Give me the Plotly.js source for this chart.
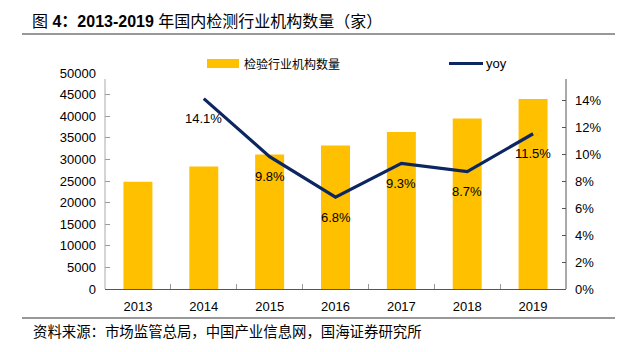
<!DOCTYPE html>
<html>
<head>
<meta charset="utf-8">
<script src="https://cdn.plot.ly/plotly-3.0.1.min.js"></script>
<style>html,body{margin:0;padding:0;background:#fff;}#chart{width:637px;height:352px;}</style>
</head>
<body>
<div id="chart"></div>
<script>
const years = ['2013','2014','2015','2016','2017','2018','2019'];
const institutions = [24847, 28340, 31122, 33235, 36327, 39472, 44007];
const yoyYears = ['2014','2015','2016','2017','2018','2019'];
const yoy = [0.141, 0.098, 0.068, 0.093, 0.087, 0.115];
const yoyLabels = ['14.1%','9.8%','6.8%','9.3%','8.7%','11.5%'];
const barName = '检验行业机构数量';
const lineName = 'yoy';
const leftTicks = [0,5000,10000,15000,20000,25000,30000,35000,40000,45000,50000];
const rightTicks = [0,0.02,0.04,0.06,0.08,0.10,0.12,0.14];
const titleText = '图 <b>4：2013-2019</b> 年国内检测行业机构数量（家）';
const sourceText = '资料来源：市场监管总局，中国产业信息网，国海证券研究所';

const W = 637, H = 352;
const L = 105, R = 566, T = 73, B = 289;
const pw = R - L, ph = B - T;
const px = x => (x - L) / pw;
const py = y => (B - y) / ph;

const font = 'Liberation Sans, Arial, Noto Sans CJK SC, sans-serif';

const traces = [
  {
    type: 'bar', x: years, y: institutions, name: barName,
    marker: {color: '#FFC000'}, showlegend: false, hoverinfo: 'skip'
  },
  {
    type: 'scatter', mode: 'lines', x: yoyYears, y: yoy, yaxis: 'y2', name: lineName,
    line: {color: '#0B2660', width: 3.2},
    showlegend: false, hoverinfo: 'skip', cliponaxis: false
  }
];

// value labels positioned via the category index of each year on the x axis
const labelAnns = yoyYears.map((yr, i) => ({
  x: years.indexOf(yr), y: yoy[i], xref: 'x', yref: 'y2', text: yoyLabels[i],
  showarrow: false, xanchor: 'center', yanchor: 'middle', yshift: -20,
  font: {family: font, size: 13, color: '#000'}
}));

const layout = {
  width: W, height: H,
  margin: {l: L, r: W - R, t: T, b: H - B, pad: 0},
  paper_bgcolor: '#fff', plot_bgcolor: '#fff',
  font: {family: font, size: 13, color: '#000'},
  bargap: 0.56,
  showlegend: false,
  title: {
    text: titleText, x: 32 / W, xanchor: 'left', xref: 'container',
    y: 1 - 21 / H, yanchor: 'middle', yref: 'container',
    font: {family: 'Liberation Sans, Noto Sans CJK SC, sans-serif', size: 16, color: '#000'}
  },
  xaxis: {
    type: 'category', categoryorder: 'array', categoryarray: years,
    range: [-0.5, years.length - 0.5],
    showgrid: false, zeroline: false,
    showline: true, linecolor: '#555', linewidth: 1,
    ticks: 'inside', ticklen: 5, tickcolor: '#999', tickson: 'boundaries',
    tickfont: {family: font, size: 13, color: '#000'}, ticklabelstandoff: 5
  },
  yaxis: {
    range: [0, 50000], showgrid: false, zeroline: false, showline: false,
    tickvals: leftTicks, ticktext: leftTicks.map(String),
    ticks: 'inside', ticklen: 5, tickcolor: '#999',
    tickfont: {family: font, size: 13, color: '#000'}, ticklabelstandoff: 8
  },
  yaxis2: {
    overlaying: 'y', side: 'right', range: [0, 0.16],
    showgrid: false, zeroline: false, showline: false,
    tickvals: rightTicks, ticktext: rightTicks.map(v => Math.round(v * 100) + '%'),
    ticks: 'inside', ticklen: 4, tickcolor: '#555',
    tickfont: {family: font, size: 13, color: '#000'}, ticklabelstandoff: 8
  },
  shapes: [
    {type: 'line', xref: 'paper', yref: 'paper', x0: 0, x1: 0, y0: 0, y1: py(79), line: {color: '#aaa', width: 1}},
    {type: 'line', xref: 'paper', yref: 'paper', x0: 1, x1: 1, y0: 0, y1: py(79), line: {color: '#555', width: 1}},
    {type: 'line', xref: 'paper', yref: 'paper', x0: px(22), x1: px(615), y0: py(34), y1: py(34), line: {color: '#333', width: 1.2}},
    {type: 'line', xref: 'paper', yref: 'paper', x0: px(22), x1: px(615), y0: py(318), y1: py(318), line: {color: '#333', width: 1.2}},
    {type: 'rect', xref: 'paper', yref: 'paper', x0: px(207), x1: px(239), y0: py(68), y1: py(59), fillcolor: '#FFC000', line: {width: 0}},
    {type: 'line', xref: 'paper', yref: 'paper', x0: px(449), x1: px(483), y0: py(63.5), y1: py(63.5), line: {color: '#0B2660', width: 3.2}}
  ],
  annotations: labelAnns.concat([
    {xref: 'paper', yref: 'paper', x: px(242), y: py(64), xanchor: 'left', yanchor: 'middle', showarrow: false,
     text: barName, font: {family: 'Noto Sans CJK SC, sans-serif', size: 12, color: '#000'}},
    {xref: 'paper', yref: 'paper', x: px(484), y: py(63), xanchor: 'left', yanchor: 'middle', showarrow: false,
     text: lineName, font: {family: font, size: 13, color: '#000'}},
    {xref: 'paper', yref: 'paper', x: px(31), y: py(330), xanchor: 'left', yanchor: 'middle', showarrow: false,
     text: sourceText, font: {family: 'Noto Sans CJK SC, sans-serif', size: 14.4, color: '#000'}}
  ])
};

Plotly.newPlot('chart', traces, layout, {staticPlot: true, displayModeBar: false});
</script>
</body>
</html>
